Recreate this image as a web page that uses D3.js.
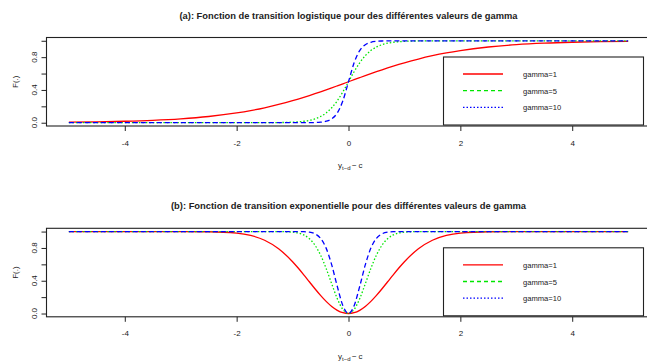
<!DOCTYPE html>
<html>
<head>
<meta charset="utf-8">
<script src="https://cdn.jsdelivr.net/npm/d3@7"></script>
<style>
  html, body { margin: 0; padding: 0; background: #fff; }
  svg { display: block; font-family: "Liberation Sans", Arial, sans-serif; }
</style>
</head>
<body>
<svg id="chart" width="647" height="363"></svg>
<script>
const xs = [-5, -4.5, -4, -3.5, -3, -2.5, -2, -1.75, -1.5, -1.25, -1,
  -0.9, -0.8, -0.7, -0.6, -0.5, -0.4, -0.3, -0.2, -0.1, 0,
  0.1, 0.2, 0.3, 0.4, 0.5, 0.6, 0.7, 0.8, 0.9,
  1, 1.25, 1.5, 1.75, 2, 2.5, 3, 3.5, 4, 4.5, 5];

// (a) logistic
const logG1 = [0.0067, 0.011, 0.018, 0.0293, 0.0474, 0.0759, 0.1192, 0.148, 0.1824, 0.2227, 0.2689,
  0.2891, 0.31, 0.3318, 0.3543, 0.3775, 0.4013, 0.4256, 0.4502, 0.475, 0.5,
  0.525, 0.5498, 0.5744, 0.5987, 0.6225, 0.6457, 0.6682, 0.69, 0.7109,
  0.7311, 0.7773, 0.8176, 0.852, 0.8808, 0.9241, 0.9526, 0.9707, 0.982, 0.989, 0.9933];
const logG5 = [0, 0, 0, 0, 0, 0, 0, 0.0002, 0.0006, 0.0019, 0.0067,
  0.011, 0.018, 0.0293, 0.0474, 0.0759, 0.1192, 0.1824, 0.2689, 0.3775, 0.5,
  0.6225, 0.7311, 0.8176, 0.8808, 0.9241, 0.9526, 0.9707, 0.982, 0.989,
  0.9933, 0.9981, 0.9994, 0.9998, 1, 1, 1, 1, 1, 1, 1];
const logG10 = [0, 0, 0, 0, 0, 0, 0, 0, 0, 0, 0,
  0.0001, 0.0003, 0.0009, 0.0025, 0.0067, 0.018, 0.0474, 0.1192, 0.2689, 0.5,
  0.7311, 0.8808, 0.9526, 0.982, 0.9933, 0.9975, 0.9991, 0.9997, 0.9999,
  1, 1, 1, 1, 1, 1, 1, 1, 1, 1, 1];

// (b) exponential
const expG1 = [1, 1, 1, 1, 0.9999, 0.9981, 0.9817, 0.9532, 0.8946, 0.7904, 0.6321,
  0.5551, 0.4727, 0.3874, 0.3023, 0.2212, 0.1479, 0.0861, 0.0392, 0.01, 0,
  0.01, 0.0392, 0.0861, 0.1479, 0.2212, 0.3023, 0.3874, 0.4727, 0.5551,
  0.6321, 0.7904, 0.8946, 0.9532, 0.9817, 0.9981, 0.9999, 1, 1, 1, 1];
const expG5 = [1, 1, 1, 1, 1, 1, 1, 1, 1, 0.9996, 0.9933,
  0.9826, 0.9592, 0.9137, 0.8347, 0.7135, 0.5507, 0.3624, 0.1813, 0.0488, 0,
  0.0488, 0.1813, 0.3624, 0.5507, 0.7135, 0.8347, 0.9137, 0.9592, 0.9826,
  0.9933, 0.9996, 1, 1, 1, 1, 1, 1, 1, 1, 1];
const expG10 = [1, 1, 1, 1, 1, 1, 1, 1, 1, 1, 1,
  0.9997, 0.9983, 0.9926, 0.9727, 0.9179, 0.7981, 0.5934, 0.3297, 0.0952, 0,
  0.0952, 0.3297, 0.5934, 0.7981, 0.9179, 0.9727, 0.9926, 0.9983, 0.9997,
  1, 1, 1, 1, 1, 1, 1, 1, 1, 1, 1];

const xTicks = [-4, -2, 0, 2, 4];
const yTicks = [0, 0.2, 0.4, 0.6, 0.8, 1];
const yTickLabels = [0, 0.4, 0.8];
const legendLabels = ['gamma=1', 'gamma=5', 'gamma=10'];

const titles = [
  '(a): Fonction de transition logistique pour des différentes valeurs de gamma',
  '(b): Fonction de transition exponentielle pour des différentes valeurs de gamma'
];

const colors = ['#ff0000', '#00e600', '#0000ff'];
// dash used in the plot vs the (mismatched) dash shown in the legend
const plotDash = [null, '1.5,2', '5,3'];
const legendDash = [null, '4,3', '1.5,2'];

const svg = d3.select('#chart');
const ink = '#222';

const x = d3.scaleLinear().domain([-5.4, 5.4]).range([46.5, 650.5]);

const drawPanel = (top, title, titleWidth, series) => {
  const bottom = top + 88.5;
  const y = d3.scaleLinear().domain([-0.04, 1.04]).range([bottom, top]);
  const g = svg.append('g');

  // title
  g.append('text')
    .attr('x', 348.5).attr('y', top - 19)
    .attr('text-anchor', 'middle')
    .attr('font-size', 9.5).attr('font-weight', 'bold')
    .attr('fill', ink)
    .attr('textLength', titleWidth).attr('lengthAdjust', 'spacingAndGlyphs')
    .text(title);

  // curves
  const line = d3.line()
    .x((d, i) => x(xs[i]))
    .y(d => y(d))
    .curve(d3.curveMonotoneX);

  series.forEach((s, i) => {
    g.append('path')
      .attr('d', line(s))
      .attr('fill', 'none')
      .attr('stroke', colors[i])
      .attr('stroke-width', 1.3)
      .attr('stroke-dasharray', plotDash[i]);
  });

  // box
  g.append('rect')
    .attr('x', x(-5.4)).attr('y', top)
    .attr('width', x(5.4) - x(-5.4)).attr('height', bottom - top)
    .attr('fill', 'none').attr('stroke', ink).attr('stroke-width', 1.1);

  // x axis
  const xAxis = g.append('g')
    .attr('transform', `translate(0,${bottom})`)
    .call(d3.axisBottom(x).tickValues(xTicks).tickSize(5).tickPadding(9)
      .tickFormat(d => d < 0 ? '-' + Math.abs(d) : d));
  xAxis.select('.domain').remove();
  xAxis.selectAll('line').attr('stroke', ink);
  xAxis.selectAll('text').attr('font-size', 8).attr('fill', ink)
    .attr('font-family', '"Liberation Sans", Arial, sans-serif');

  // y axis
  const yAxis = g.append('g')
    .attr('transform', `translate(${x(-5.4)},0)`)
    .call(d3.axisLeft(y).tickValues(yTicks).tickSize(5).tickFormat(''));
  yAxis.select('.domain').attr('d', `M0,${y(0)}V${y(1)}`).attr('stroke', ink);
  yAxis.selectAll('line').attr('stroke', ink);

  yTickLabels.forEach(v => {
    g.append('text')
      .attr('transform', `translate(36.5,${y(v)}) rotate(-90)`)
      .attr('text-anchor', 'middle')
      .attr('font-size', 8).attr('fill', ink)
      .text(d3.format('.1f')(v));
  });

  // axis titles
  g.append('text')
    .attr('transform', `translate(18,${(top + bottom) / 2}) rotate(-90)`)
    .attr('text-anchor', 'middle')
    .attr('font-size', 8).attr('fill', ink)
    .text('F(.)');

  const xl = g.append('text')
    .attr('x', 338).attr('y', bottom + 42)
    .attr('font-size', 8).attr('fill', ink);
  xl.append('tspan').text('y');
  xl.append('tspan').attr('font-size', 6).attr('dy', 2).text('t\u2212d');
  xl.append('tspan').attr('dy', -2).text('\u2009\u2212\u2009c');

  // legend
  const lg = g.append('g');
  const lTop = top + 19.5;
  lg.append('rect')
    .attr('x', 443.5).attr('y', lTop)
    .attr('width', 200).attr('height', bottom - 1 - lTop)
    .attr('fill', '#fff').attr('stroke', ink).attr('stroke-width', 1.1);

  legendLabels.forEach((lab, i) => {
    const ly = lTop + 17 + i * 16.7;
    lg.append('line')
      .attr('x1', 463).attr('x2', 503).attr('y1', ly).attr('y2', ly)
      .attr('stroke', colors[i]).attr('stroke-width', 1.3)
      .attr('stroke-dasharray', legendDash[i]);
    lg.append('text')
      .attr('x', 523).attr('y', ly + 3)
      .attr('font-size', 7.6).attr('fill', ink)
      .text(lab);
  });
};

drawPanel(37.5, titles[0], 338, [logG1, logG5, logG10]);
drawPanel(228.3, titles[1], 355, [expG1, expG5, expG10]);
</script>
</body>
</html>
